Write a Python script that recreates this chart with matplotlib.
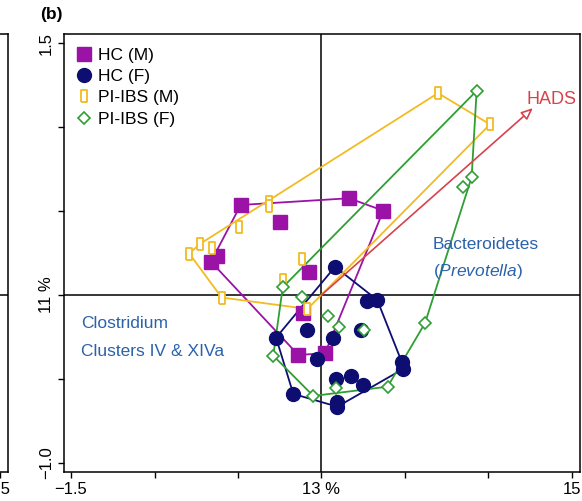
import numpy as np
import matplotlib
matplotlib.use("Agg")
import matplotlib.pyplot as plt

plt.rcParams['font.family'] = ['Liberation Sans', 'DejaVu Sans']
plt.rcParams['mathtext.fontset'] = 'custom'
plt.rcParams['mathtext.it'] = 'Liberation Sans:italic'
plt.rcParams['mathtext.rm'] = 'Liberation Sans'

# PCA scores for each group (PC1, PC2)
hc_m_x = [-0.484, -0.249, 0.165, 0.370, -0.628, -0.662, -0.075, -0.109, -0.139, 0.021]
hc_m_y = [0.536, 0.433, 0.576, 0.502, 0.232, 0.198, 0.139, -0.109, -0.357, -0.347]

hc_f_x = [0.081, 0.274, 0.334, -0.085, 0.237, -0.272, 0.067, -0.029, 0.480, 0.490,
          0.087, 0.175, 0.250, -0.169, 0.095, 0.095]
hc_f_y = [0.168, -0.034, -0.030, -0.208, -0.208, -0.254, -0.258, -0.381, -0.397, -0.440,
          -0.500, -0.482, -0.536, -0.589, -0.635, -0.665]

ibs_m_x = [0.698, 1.009, -0.314, -0.317, -0.494, -0.728, -0.792, -0.656, -0.117, -0.229,
           -0.598, -0.084]
ibs_m_y = [1.202, 1.016, 0.555, 0.527, 0.407, 0.304, 0.247, 0.277, 0.214, 0.088,
           -0.015, -0.083]

ibs_f_x = [0.929, 0.899, 0.846, -0.232, -0.115, 0.037, 0.105, 0.256, -0.289, 0.087,
           -0.049, 0.396, 0.620]
ibs_f_y = [1.216, 0.701, 0.645, 0.046, -0.010, -0.123, -0.192, -0.208, -0.361, -0.555,
           -0.601, -0.546, -0.167]

group_labels = ['HC (M)', 'HC (F)', 'PI-IBS (M)', 'PI-IBS (F)']

# HADS loading vector
hads_x, hads_y = 1.266, 1.113

x_ticks = [-1.5, -1.0, -0.5, 0.0, 0.5, 1.0, 1.5]
x_ticklabels = ['\u22121.5', '', '', '13 %', '', '', '15']
y_ticks = [-1.0, -0.5, 0.0, 0.5, 1.0, 1.5]
y_ticklabels = ['\u22121.0', '', '11 %', '', '', '1.5']

XLIM = (-1.545, 1.548)
YLIM = (-1.054, 1.554)


def hull(xs, ys):
    # monotone chain convex hull, returns closed polygon
    pts = sorted(set(zip(xs, ys)))

    def cross(o, a, b):
        return (a[0] - o[0]) * (b[1] - o[1]) - (a[1] - o[1]) * (b[0] - o[0])

    lower, upper = [], []
    for p in pts:
        while len(lower) >= 2 and cross(lower[-2], lower[-1], p) <= 0:
            lower.pop()
        lower.append(p)
    for p in reversed(pts):
        while len(upper) >= 2 and cross(upper[-2], upper[-1], p) <= 0:
            upper.pop()
        upper.append(p)
    h = lower[:-1] + upper[:-1]
    h.append(h[0])
    return [p[0] for p in h], [p[1] for p in h]


fig = plt.figure(figsize=(5.82, 5.01), dpi=100)
L, B, W, H = 63.5 / 582, 1 - 472 / 501, (580 - 63.5) / 582, (472 - 34) / 501

# edge of neighbouring panel (a)
axa = fig.add_axes([-0.9, B, 0.9 + 8 / 582, H])
axa.set_xlim(XLIM)
axa.set_ylim(YLIM)
axa.axhline(0, color='black', lw=1.1)
axa.set_xticks([1.5])
axa.set_xticklabels(['1.5'], fontsize=12)
axa.set_yticks([])
axa.tick_params(axis='x', direction='out', length=4, width=1, pad=3)
for s in axa.spines.values():
    s.set_linewidth(1.1)

ax = fig.add_axes([L, B, W, H])
ax.set_xlim(XLIM)
ax.set_ylim(YLIM)

ax.axhline(0, color='black', lw=1.1, zorder=1)
ax.axvline(0, color='black', lw=1.1, zorder=1)

purple = '#9a12a6'
navy = '#0e0e72'
gold = '#f2bb22'
green = '#2f9e33'
red = '#d8424c'
blue = '#2b62aa'

# open tall rectangle marker
rect_marker = [(-0.45, -1), (0.45, -1), (0.45, 1), (-0.45, 1), (-0.45, -1)]

groups = [
    (hc_m_x, hc_m_y, purple, dict(marker='s', ms=9.5, mfc=purple, mec=purple)),
    (hc_f_x, hc_f_y, navy, dict(marker='o', ms=10, mfc=navy, mec=navy)),
    (ibs_m_x, ibs_m_y, gold, dict(marker=rect_marker, ms=8.5, mfc='white', mec=gold, mew=1.3)),
    (ibs_f_x, ibs_f_y, green, dict(marker='D', ms=6.5, mfc='white', mec=green, mew=1.2)),
]

handles = []
for (gx, gy, col, mk), lab in zip(groups, group_labels):
    hx, hy = hull(gx, gy)
    ax.plot(hx, hy, color=col, lw=1.3, zorder=2)
for (gx, gy, col, mk), lab in zip(groups, group_labels):
    h, = ax.plot(gx, gy, ls='none', zorder=3, label=lab, **mk)
    handles.append(h)

# HADS arrow
ax.annotate('', xy=(hads_x, hads_y), xytext=(0, 0),
            arrowprops=dict(arrowstyle='-|>,head_length=0.7,head_width=0.3',
                            color=red, fc='white', lw=1.2, shrinkA=0, shrinkB=0),
            zorder=4)
ax.text(hads_x - 0.04, hads_y + 0.0, 'HADS', color=red, fontsize=13,
        ha='left', va='bottom')

ax.text(0.668, 0.298, 'Bacteroidetes', color=blue, fontsize=12.5, va='center')
ax.text(0.668, 0.137, r'($\mathit{Prevotella}$)', color=blue, fontsize=12.5, va='center')

ax.text(-1.44, -0.167, 'Clostridium', color=blue, fontsize=12.5, va='center')
ax.text(-1.44, -0.339, 'Clusters IV & XIVa', color=blue, fontsize=12.5, va='center')

ax.legend(handles=handles, loc='upper left', bbox_to_anchor=(0.0, 1.0),
          frameon=False, fontsize=12.5, handlelength=0.8, handletextpad=0.4,
          labelspacing=0.35, borderaxespad=0.4, borderpad=0.4)

ax.set_xticks(x_ticks)
ax.set_xticklabels(x_ticklabels, fontsize=12)
ax.set_yticks(y_ticks)
ax.set_yticklabels(y_ticklabels, fontsize=12, rotation=90, va='center')
ax.tick_params(direction='out', length=4, width=1, pad=3)
for s in ax.spines.values():
    s.set_linewidth(1.1)

fig.text(40 / 582, 1 - 14 / 501, '(b)', fontsize=12.5, fontweight='bold',
         ha='left', va='center')

fig.savefig('out.png', dpi=100)
